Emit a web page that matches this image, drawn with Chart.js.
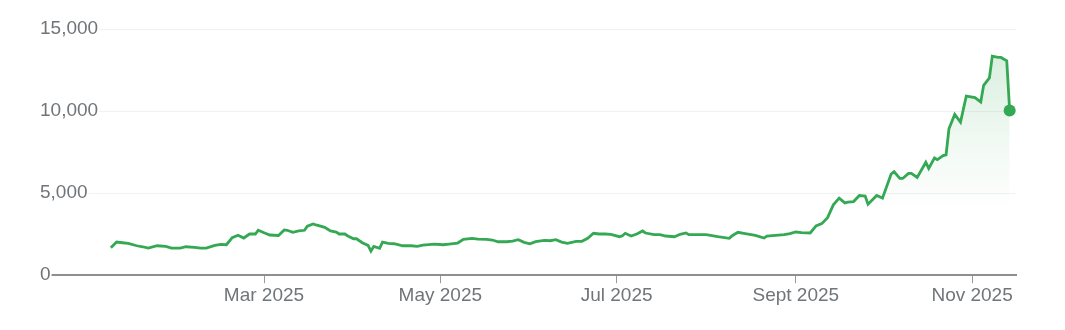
<!DOCTYPE html>
<html>
<head>
<meta charset="utf-8">
<script src="https://cdn.jsdelivr.net/npm/chart.js@4.4.1/dist/chart.umd.min.js"></script>
<style>
  html, body { margin: 0; padding: 0; background: #fff; }
  #wrap { width: 1065px; height: 330px; position: relative; }
</style>
</head>
<body>
<div id="wrap"><canvas id="c"></canvas></div>
<script>
// ---- data ----
const dates = [
  '2025-01-07','2025-01-09','2025-01-11','2025-01-13','2025-01-16','2025-01-18','2025-01-20','2025-01-23','2025-01-26','2025-01-28','2025-01-31',
  '2025-02-02','2025-02-05','2025-02-07','2025-02-09','2025-02-12','2025-02-14','2025-02-16','2025-02-18','2025-02-20','2025-02-22','2025-02-24','2025-02-26','2025-02-27',
  '2025-03-01','2025-03-03','2025-03-06','2025-03-08','2025-03-09','2025-03-11','2025-03-13','2025-03-15','2025-03-16','2025-03-18','2025-03-19','2025-03-22','2025-03-24','2025-03-26','2025-03-27','2025-03-29','2025-03-30',
  '2025-04-01','2025-04-02','2025-04-04','2025-04-06','2025-04-07','2025-04-08','2025-04-10','2025-04-11','2025-04-13','2025-04-15','2025-04-18','2025-04-21','2025-04-23','2025-04-25','2025-04-29',
  '2025-05-02','2025-05-04','2025-05-07','2025-05-09','2025-05-12','2025-05-14','2025-05-17','2025-05-19','2025-05-21','2025-05-24','2025-05-26','2025-05-28','2025-05-30',
  '2025-06-01','2025-06-03','2025-06-06','2025-06-08','2025-06-10','2025-06-12','2025-06-14','2025-06-17','2025-06-19','2025-06-21','2025-06-23','2025-06-25','2025-06-27','2025-06-29',
  '2025-07-02','2025-07-03','2025-07-04','2025-07-06','2025-07-08','2025-07-10','2025-07-11','2025-07-14','2025-07-16','2025-07-18','2025-07-21','2025-07-23','2025-07-25','2025-07-26','2025-07-29',
  '2025-08-01','2025-08-05','2025-08-09','2025-08-10','2025-08-12','2025-08-14','2025-08-16','2025-08-18','2025-08-21','2025-08-22','2025-08-25','2025-08-28','2025-08-30',
  '2025-09-01','2025-09-03','2025-09-06','2025-09-08','2025-09-10','2025-09-12','2025-09-14','2025-09-16','2025-09-18','2025-09-19','2025-09-21','2025-09-23','2025-09-25','2025-09-26','2025-09-29',
  '2025-10-01','2025-10-04','2025-10-05','2025-10-07','2025-10-08','2025-10-10','2025-10-11','2025-10-13','2025-10-16','2025-10-17','2025-10-19','2025-10-20','2025-10-22','2025-10-23','2025-10-24','2025-10-26','2025-10-28','2025-10-30',
  '2025-11-02','2025-11-04','2025-11-05','2025-11-07','2025-11-08','2025-11-10','2025-11-11','2025-11-13','2025-11-14'
];
const values = [
  1670,2020,1977,1941,1794,1733,1653,1794,1757,1653,1653,
  1733,1696,1653,1653,1818,1879,1855,2283,2430,2265,2510,2510,2737,
  2590,2449,2418,2755,2737,2614,2694,2737,2981,3122,3061,2920,2694,2632,2510,2510,2388,
  2222,2222,1977,1818,1469,1757,1635,2020,1941,1916,1794,1794,1757,1837,1898,
  1855,1898,1959,2186,2247,2204,2186,2143,2039,2039,2081,2161,2002,
  1916,2039,2124,2100,2161,2020,1941,2063,2063,2247,2553,2510,2510,2492,
  2345,2406,2553,2388,2510,2694,2571,2467,2467,2388,2345,2492,2571,2467,2467,
  2467,2345,2247,2406,2614,2553,2492,2430,2265,2388,2430,2467,2528,
  2632,2590,2571,3000,3141,3508,4285,4696,4408,4451,4487,4855,4818,4328,4855,
  4696,6165,6306,5895,5895,6202,6202,5957,6875,6508,7144,7040,7285,7328,8920,9795,9324,10916,
  10818,10548,11571,12018,13346,13266,13266,13058,10040
];
const tickDates  = ['2025-03-01','2025-05-01','2025-07-01','2025-09-01','2025-11-01'];
const tickLabels = ['Mar 2025','May 2025','Jul 2025','Sept 2025','Nov 2025'];
const yTicks = [0, 5000, 10000, 15000];

// ---- helpers ----
const ORIGIN = Date.UTC(2025, 0, 1);
const toDay = s => (Date.parse(s) - ORIGIN) / 864e5;
const points = dates.map((d, i) => ({ x: toDay(d), y: values[i] }));
const tickDays = tickDates.map(toDay);

const GREEN = '#34a853';
const FONT = { family: "Arial, 'Liberation Sans', sans-serif", size: 19 };
const TEXT = '#70757a';

new Chart(document.getElementById('c'), {
  type: 'line',
  data: {
    datasets: [{
      data: points,
      borderColor: GREEN,
      borderWidth: 2.8,
      tension: 0,
      fill: 'origin',
      backgroundColor: (ctx) => {
        const ca = ctx.chart.chartArea;
        if (!ca) return 'rgba(52,168,83,0.1)';
        const g = ctx.chart.ctx.createLinearGradient(0, ca.top, 0, ca.bottom);
        g.addColorStop(0, 'rgba(52,168,83,0.22)');
        g.addColorStop(0.45, 'rgba(52,168,83,0.07)');
        g.addColorStop(0.75, 'rgba(52,168,83,0)');
        return g;
      },
      pointRadius: (ctx) => ctx.dataIndex === values.length - 1 ? 6 : 0,
      pointBackgroundColor: GREEN,
      pointBorderWidth: 0,
      pointHoverRadius: 0
    }]
  },
  options: {
    responsive: true,
    maintainAspectRatio: false,
    animation: false,
    layout: { padding: { left: 50, right: 49, top: 29, bottom: 22 } },
    plugins: { legend: { display: false }, tooltip: { enabled: false } },
    scales: {
      x: {
        type: 'linear',
        min: -15.05,
        max: 319.2,
        afterBuildTicks: (s) => { s.ticks = tickDays.map(v => ({ value: v })); },
        ticks: {
          autoSkip: false,
          maxRotation: 0,
          padding: 1,
          color: TEXT,
          font: FONT,
          callback: (v, i) => tickLabels[i]
        },
        grid: {
          drawOnChartArea: false,
          drawTicks: true,
          tickLength: 8,
          color: '#9a9a9a',
          lineWidth: 1
        },
        border: { display: true, color: '#8f8f8f', width: 2 }
      },
      y: {
        min: 0,
        max: 15000,
        afterBuildTicks: (s) => { s.ticks = yTicks.map(v => ({ value: v })); },
        afterFit: (s) => { s.width = 0; },
        ticks: {
          mirror: true,
          padding: -10,
          color: TEXT,
          font: FONT,
          z: 1,
          showLabelBackdrop: true,
          backdropColor: '#ffffff',
          backdropPadding: { left: 2, right: 1, top: 2, bottom: 2 },
          callback: (v) => v.toLocaleString('en-US')
        },
        grid: {
          drawTicks: false,
          color: (ctx) => ctx.tick && ctx.tick.value === 0 ? 'rgba(0,0,0,0)' : '#f1f1f1',
          lineWidth: 1
        },
        border: { display: false }
      }
    }
  }
});
</script>
</body>
</html>
